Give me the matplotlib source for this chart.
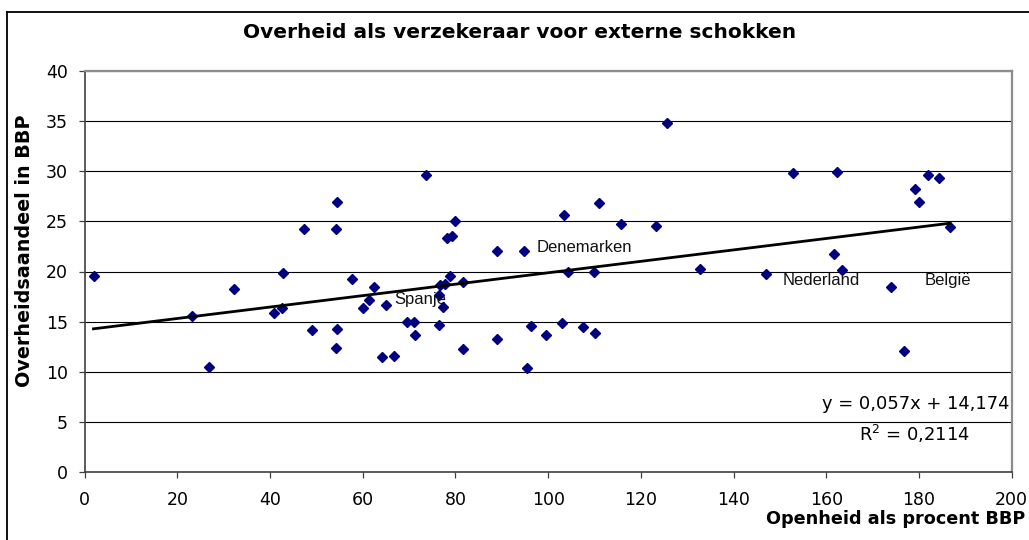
import matplotlib
matplotlib.use("Agg")
import matplotlib.pyplot as plt
from matplotlib.lines import Line2D

# ---- data ----
openheid = [1.9, 23.2, 26.8, 32.2, 40.8, 42.6, 42.8, 47.3, 49.0, 54.2,
            54.5, 54.2, 54.5, 57.7, 60.1, 61.4, 62.5, 64.2, 65.1, 66.8,
            69.5, 71.1, 71.3, 73.7, 76.5, 76.5, 77.2, 76.7, 77.8, 78.9,
            78.1, 79.3, 80.0, 81.6, 81.6, 88.9, 88.9, 94.7, 95.4, 96.3,
            99.5, 103.0, 103.4, 104.2, 107.6, 109.8, 110.2, 110.9, 115.7, 123.3,
            125.6, 132.8, 146.9, 152.8, 161.6, 162.3, 163.4, 173.9, 176.7, 179.2,
            180.1, 181.9, 184.3, 186.7]
overheid = [19.6, 15.6, 10.5, 18.3, 15.9, 16.4, 19.9, 24.2, 14.2, 12.4,
            14.3, 24.2, 26.9, 19.3, 16.4, 17.2, 18.5, 11.5, 16.7, 11.6,
            15.0, 15.0, 13.7, 29.6, 14.7, 17.7, 16.5, 18.7, 18.8, 19.6,
            23.3, 23.5, 25.0, 19.0, 12.3, 22.0, 13.3, 22.0, 10.4, 14.6,
            13.7, 14.9, 25.6, 20.0, 14.5, 20.0, 13.9, 26.8, 24.7, 24.5,
            34.8, 20.2, 19.8, 29.8, 21.7, 29.9, 20.1, 18.5, 12.1, 28.2,
            26.9, 29.6, 29.3, 24.4]

labels = ["Spanje", "Denemarken", "Nederland", "België"]
label_x = [66.7, 97.4, 150.5, 181.2]
label_y = [17.2, 22.4, 19.1, 19.1]

slope = 0.057
intercept = 14.174
r2 = "0,2114"

title = "Overheid als verzekeraar voor externe schokken"
xlabel = "Openheid als procent BBP"
ylabel = "Overheidsaandeel in BBP"
xticks = [0, 20, 40, 60, 80, 100, 120, 140, 160, 180, 200]
yticks = [0, 5, 10, 15, 20, 25, 30, 35, 40]

# ---- figure ----
W, H = 1029, 540
fig = plt.figure(figsize=(W / 100, H / 100), dpi=100)
fig.patch.set_facecolor("white")

def fx(px):
    return px / W

def fy(py):
    return 1 - py / H

# chart-area frame (left and top visible)
fig.add_artist(Line2D([fx(7), fx(7)], [fy(12), fy(545)], color="black", lw=1.3, transform=fig.transFigure))
fig.add_artist(Line2D([fx(7), fx(1035)], [fy(12), fy(12)], color="black", lw=1.3, transform=fig.transFigure))

left, right, top, bottom = 84.7, 1011.7, 71, 472
ax = fig.add_axes([fx(left), fy(bottom), fx(right) - fx(left), fy(top) - fy(bottom)])
ax.set_xlim(0, 200)
ax.set_ylim(0, 40)
ax.set_xticks(xticks)
ax.set_yticks(yticks)
ax.set_xticklabels([str(t) for t in xticks])
ax.set_yticklabels([str(t) for t in yticks])

ax.yaxis.grid(True, color="black", lw=0.8)
ax.set_axisbelow(True)
for s in ["left", "bottom"]:
    ax.spines[s].set_color("#404040")
    ax.spines[s].set_linewidth(1.2)
for s in ["top", "right"]:
    ax.spines[s].set_color("#8c8c8c")
    ax.spines[s].set_linewidth(1.6)

ax.tick_params(axis="both", direction="out", length=4.5, width=0.9, color="#404040",
               labelsize=12.5, labelcolor="black")
ax.tick_params(axis="x", pad=9)
ax.tick_params(axis="y", pad=7.5)
for lab in ax.get_xticklabels() + ax.get_yticklabels():
    lab.set_family("DejaVu Sans")

ax.plot(openheid, overheid, linestyle="none", marker="D", markersize=5.4,
        color="#000080", markeredgecolor="#000080", zorder=3)

xmin, xmax = min(openheid), max(openheid)
ax.plot([xmin, xmax], [slope * xmin + intercept, slope * xmax + intercept],
        color="black", lw=2.0, zorder=4)

for t, x, y in zip(labels, label_x, label_y):
    ax.text(x, y, t, ha="left", va="center", fontsize=12,
            family="Liberation Sans", color="#111111", zorder=5)

eq = "y = {}x + {}".format(str(slope).replace(".", ","), str(intercept).replace(".", ","))
fig.text(fx(1009), fy(404), eq, ha="right", va="center", fontsize=12.9, family="DejaVu Sans")
fig.text(fx(970), fy(434), "R$^2$ = " + r2, ha="right", va="center", fontsize=12.9, family="DejaVu Sans")

fig.text(fx(520), fy(32), title, ha="center", va="center", fontsize=14.5,
         fontweight="bold", family="DejaVu Sans")
fig.text(fx(1025), fy(519), xlabel, ha="right", va="center", fontsize=12.7,
         fontweight="bold", family="DejaVu Sans")
fig.text(fx(25), fy(251), ylabel, ha="center", va="center", rotation=90, fontsize=13.8,
         fontweight="bold", family="DejaVu Sans")

fig.savefig("out.png", dpi=100, facecolor="white")
